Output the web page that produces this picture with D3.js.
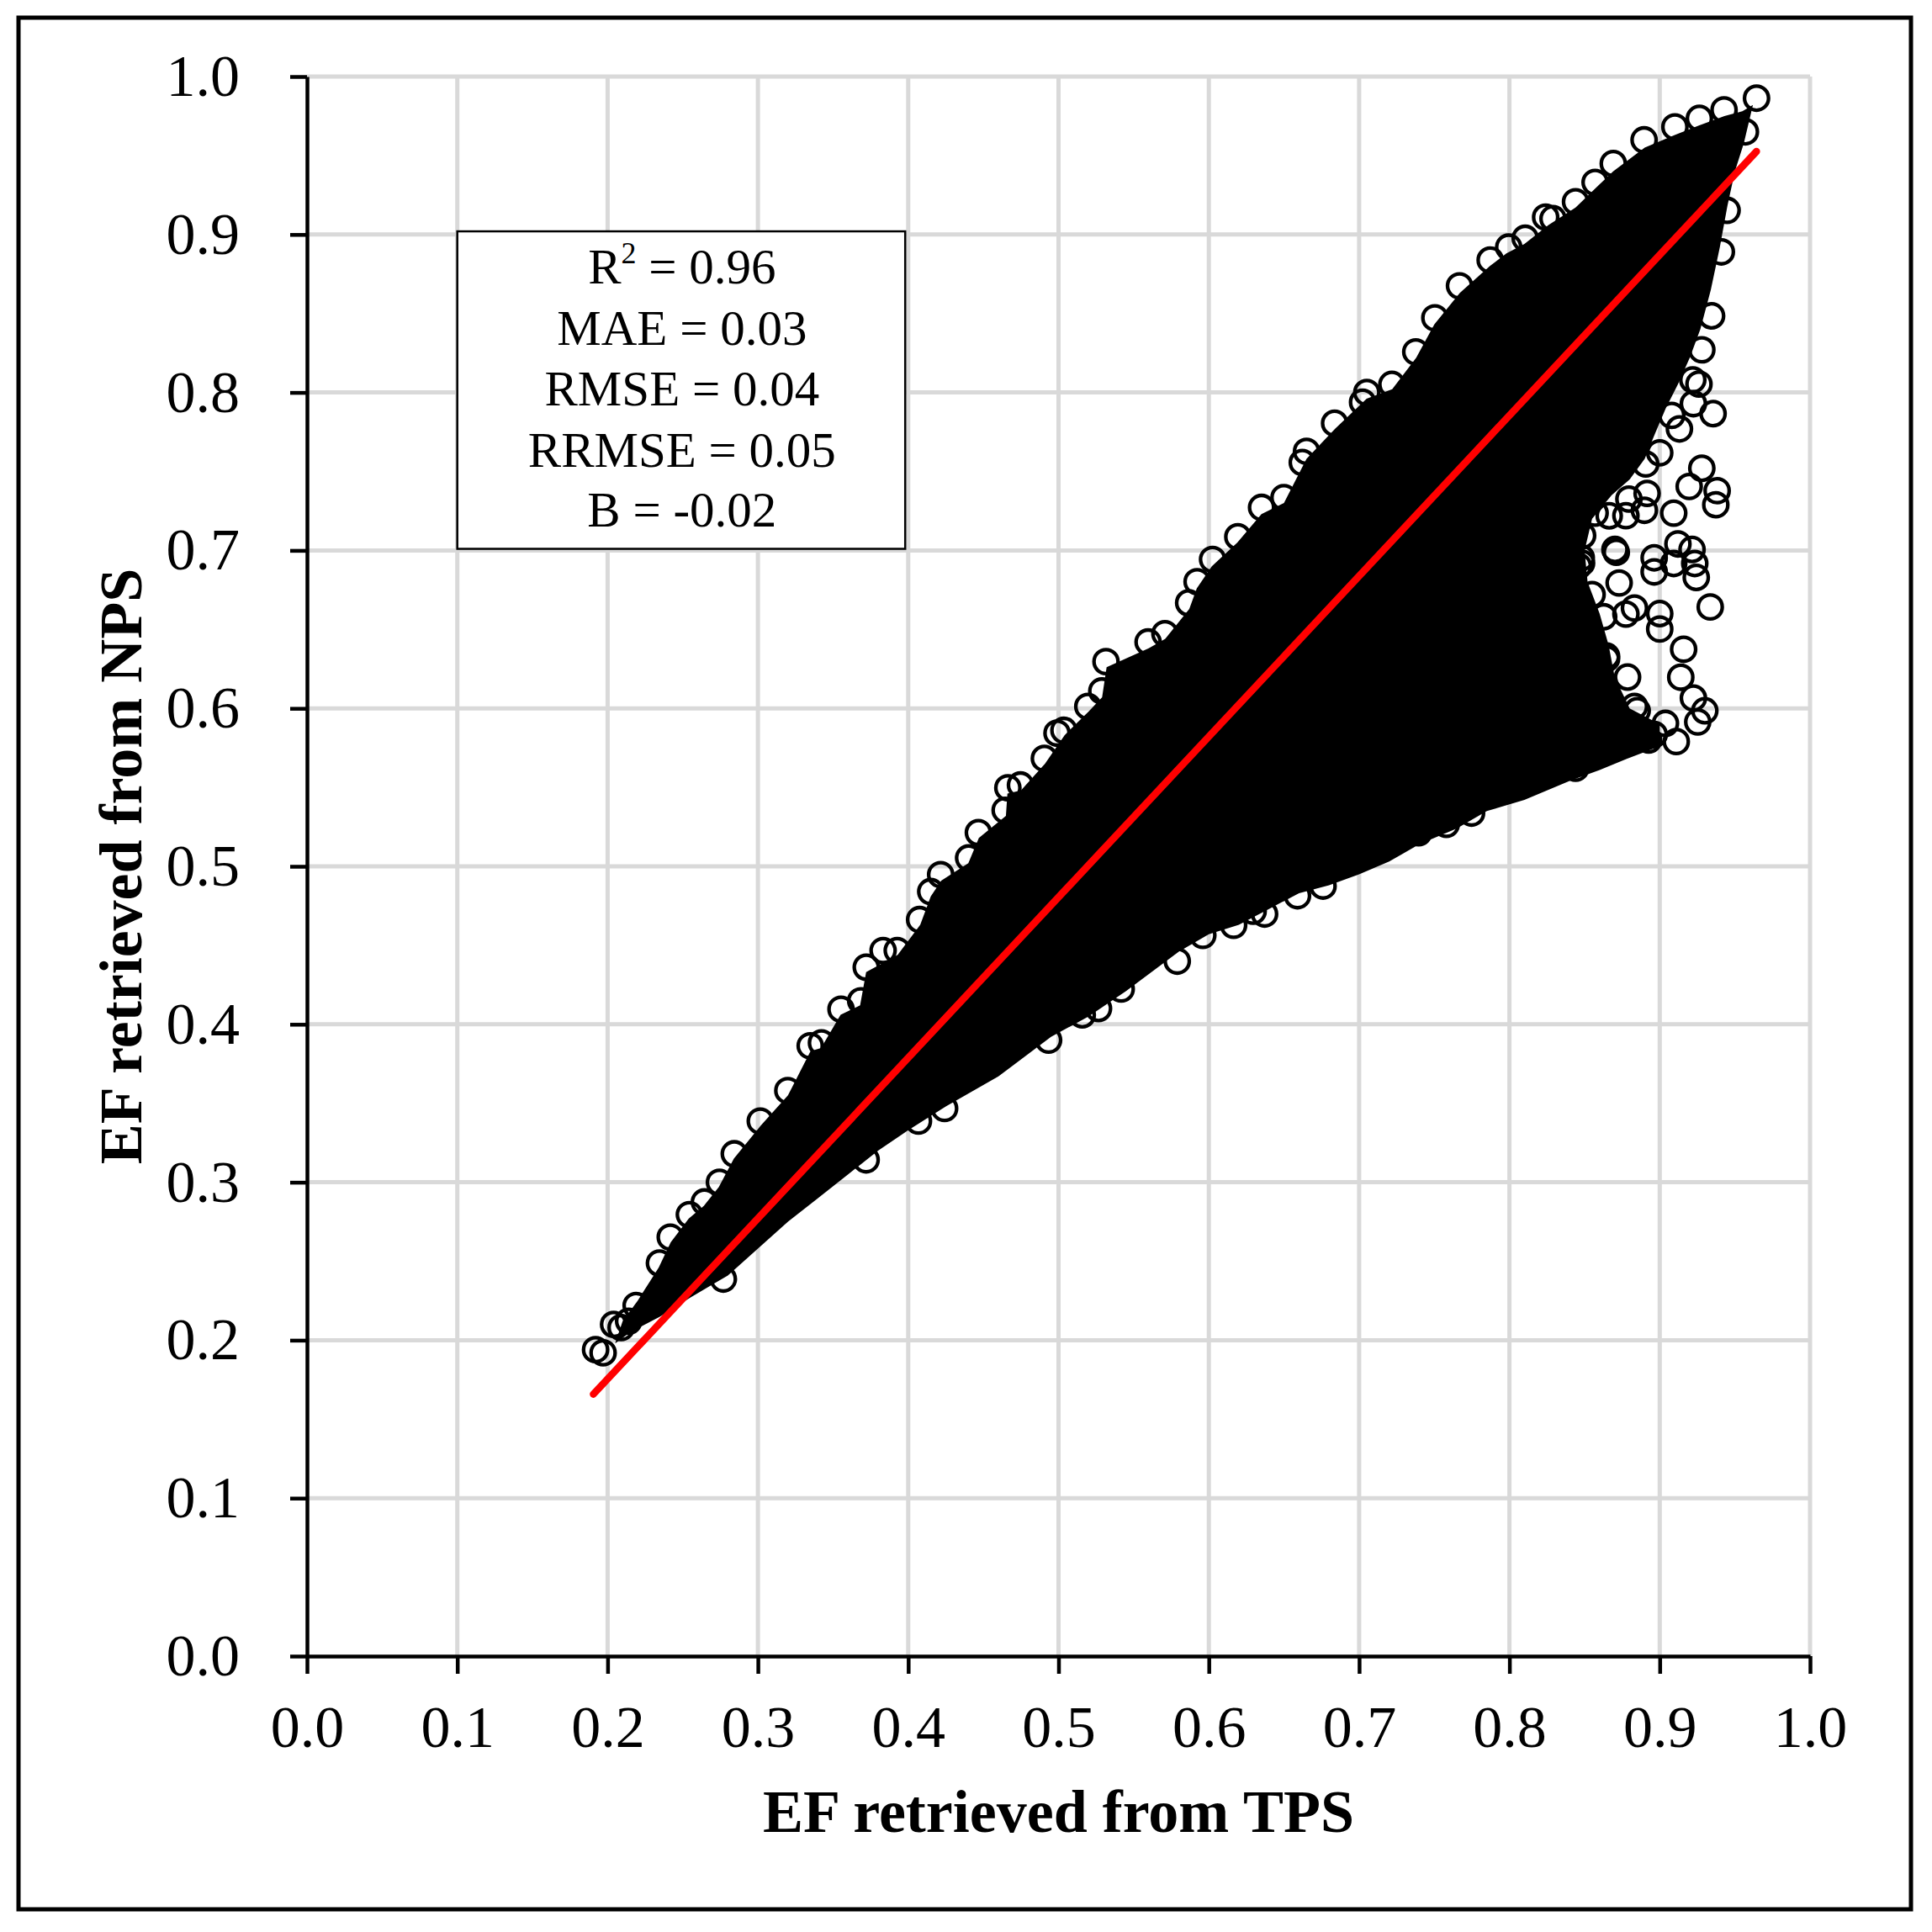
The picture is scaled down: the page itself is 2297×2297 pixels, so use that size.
<!DOCTYPE html>
<html lang="en">
<head>
<meta charset="UTF-8">
<title>EF retrieved from TPS vs NPS</title>
<script src="https://d3js.org/d3.v7.min.js"></script>
<style>
  body { margin: 0; background: #fff; }
  svg { display: block; }
  text { font-family: "Liberation Serif", "Times New Roman", serif; fill: #000; }
  .tick text { font-size: 70px; font-family: "Liberation Serif", serif; }
  .axis-title { font-size: 72px; font-weight: bold; }
  .stat { font-size: 59px; }
</style>
</head>
<body>
<svg width="2297" height="2297"></svg>
<script>
// tick values and labels
const ticks = [0, 0.1, 0.2, 0.3, 0.4, 0.5, 0.6, 0.7, 0.8, 0.9, 1.0];
const tickLabels = ["0.0", "0.1", "0.2", "0.3", "0.4", "0.5", "0.6", "0.7", "0.8", "0.9", "1.0"];

// outline of the fully overlapped part of the cloud, [TPS, NPS]
const coreOutline = [
  // lower edge
  [0.205, 0.198], [0.215, 0.205], [0.235, 0.215], [0.255, 0.227], [0.280, 0.241], [0.300, 0.258],
  [0.320, 0.275], [0.340, 0.290], [0.360, 0.305], [0.380, 0.320], [0.400, 0.333], [0.425, 0.348],
  [0.460, 0.367], [0.495, 0.392], [0.520, 0.405], [0.545, 0.421], [0.580, 0.446], [0.600, 0.457],
  [0.620, 0.463], [0.640, 0.473], [0.660, 0.483], [0.680, 0.488], [0.700, 0.495], [0.720, 0.503],
  [0.740, 0.514], [0.765, 0.524], [0.785, 0.535], [0.810, 0.542], [0.840, 0.554], [0.860, 0.561],
  [0.878, 0.568], [0.900, 0.576],
  // right side
  [0.900, 0.590], [0.880, 0.600], [0.870, 0.620], [0.866, 0.640], [0.860, 0.660], [0.852, 0.680],
  [0.850, 0.700], [0.855, 0.720], [0.868, 0.735], [0.880, 0.745], [0.890, 0.758], [0.896, 0.772],
  [0.904, 0.790], [0.912, 0.805], [0.920, 0.822], [0.927, 0.840], [0.934, 0.865], [0.940, 0.892],
  [0.945, 0.918], [0.950, 0.940], [0.956, 0.958], [0.962, 0.982],
  // upper edge
  [0.955, 0.978], [0.943, 0.975], [0.926, 0.969], [0.910, 0.963], [0.890, 0.955], [0.869, 0.940],
  [0.857, 0.929], [0.844, 0.917], [0.826, 0.906], [0.810, 0.894], [0.798, 0.888], [0.787, 0.880],
  [0.767, 0.863], [0.750, 0.843], [0.738, 0.822], [0.722, 0.802], [0.705, 0.796], [0.684, 0.777],
  [0.665, 0.758], [0.650, 0.730], [0.635, 0.723], [0.619, 0.705], [0.602, 0.690], [0.592, 0.676],
  [0.587, 0.663], [0.571, 0.644], [0.560, 0.638], [0.532, 0.626], [0.529, 0.607], [0.520, 0.598],
  [0.504, 0.583], [0.491, 0.565], [0.475, 0.548], [0.466, 0.546], [0.465, 0.532], [0.447, 0.518],
  [0.440, 0.502], [0.422, 0.491], [0.415, 0.481], [0.408, 0.463], [0.393, 0.444], [0.372, 0.433],
  [0.368, 0.412], [0.355, 0.406], [0.342, 0.385], [0.335, 0.383], [0.320, 0.355], [0.302, 0.336],
  [0.284, 0.315], [0.274, 0.297], [0.264, 0.285], [0.254, 0.277], [0.242, 0.262], [0.234, 0.246],
  [0.220, 0.225], [0.210, 0.212]
];

// individually visible points, [TPS, NPS]
const upperEdgePoints = [
  [0.192, 0.194], [0.197, 0.192], [0.204, 0.210], [0.209, 0.208], [0.214, 0.212], [0.219, 0.222],
  [0.2345, 0.2488], [0.2417, 0.2652], [0.2544, 0.2795], [0.2644, 0.2875], [0.2744, 0.300], [0.2843, 0.318],
  [0.3016, 0.3387], [0.3199, 0.358], [0.3348, 0.3864], [0.3423, 0.3882], [0.3553, 0.4095], [0.3684, 0.4148],
  [0.3721, 0.4361], [0.3833, 0.4467], [0.3927, 0.4467], [0.4076, 0.4663], [0.415, 0.484], [0.4216, 0.4947],
  [0.4402, 0.5053], [0.4467, 0.5213], [0.4645, 0.5355], [0.4663, 0.5497], [0.4747, 0.5515], [0.4906, 0.5683],
  [0.499, 0.5843], [0.5036, 0.5861], [0.5195, 0.6012], [0.5288, 0.611], [0.5316, 0.6296], [0.5596, 0.642],
  [0.5708, 0.6473], [0.5866, 0.6668], [0.5922, 0.6802], [0.6025, 0.6943], [0.6193, 0.7086], [0.6351, 0.7272],
  [0.650, 0.7334], [0.6622, 0.7556], [0.665, 0.7627], [0.6837, 0.7805], [0.7023, 0.7938], [0.7051, 0.800],
  [0.7218, 0.8051], [0.7377, 0.8257], [0.7504, 0.8472], [0.7668, 0.8675], [0.7872, 0.8838], [0.7995, 0.892],
  [0.8105, 0.8976], [0.8241, 0.911], [0.829, 0.910], [0.844, 0.9207], [0.857, 0.933], [0.8691, 0.9449],
  [0.8896, 0.9599], [0.9101, 0.9681], [0.9264, 0.9735], [0.9428, 0.9789], [0.9644, 0.9863], [0.957, 0.965]
];
const lowerEdgePoints = [
  [0.277, 0.2387], [0.372, 0.3142], [0.4068, 0.3387], [0.4242, 0.3467], [0.4934, 0.390], [0.5158, 0.406],
  [0.5266, 0.410], [0.5417, 0.4223], [0.579, 0.440], [0.596, 0.4563], [0.6165, 0.4627], [0.6295, 0.4716],
  [0.6371, 0.4698], [0.659, 0.4814], [0.676, 0.4875], [0.7396, 0.5213], [0.758, 0.5266], [0.7748, 0.5337],
  [0.844, 0.5621], [0.8926, 0.580], [0.8963, 0.5835], [0.9038, 0.5905], [0.911, 0.579]
];
const rightSidePoints = [
  [0.9448, 0.9153], [0.941, 0.889], [0.9345, 0.8485], [0.928, 0.827], [0.922, 0.808], [0.9261, 0.8053],
  [0.9224, 0.7929], [0.9355, 0.7866], [0.9131, 0.7769], [0.908, 0.7855], [0.900, 0.7618], [0.8907, 0.7547],
  [0.928, 0.752], [0.9196, 0.7405], [0.9382, 0.7378], [0.9373, 0.7289], [0.9093, 0.7236], [0.8916, 0.7361],
  [0.8898, 0.7254], [0.8795, 0.7325], [0.8664, 0.7219], [0.857, 0.7236], [0.842, 0.7236], [0.8775, 0.722],
  [0.8487, 0.7094], [0.840, 0.708], [0.8702, 0.7006], [0.8711, 0.6988], [0.8478, 0.6953], [0.8459, 0.690],
  [0.848, 0.692], [0.835, 0.680], [0.9121, 0.7041], [0.9215, 0.7006], [0.8963, 0.6953], [0.8963, 0.6864],
  [0.9093, 0.6917], [0.9233, 0.6917], [0.9243, 0.6829], [0.9336, 0.6642], [0.873, 0.6794], [0.855, 0.672],
  [0.8832, 0.6635], [0.900, 0.660], [0.8775, 0.6597], [0.8627, 0.658], [0.8217, 0.662], [0.900, 0.6502],
  [0.8534, 0.6456], [0.9159, 0.6374], [0.8646, 0.6331], [0.8646, 0.6314], [0.816, 0.633], [0.831, 0.6225],
  [0.846, 0.619], [0.8534, 0.6171], [0.8786, 0.6198], [0.914, 0.6197], [0.9224, 0.6065], [0.8832, 0.6012],
  [0.930, 0.5985], [0.8702, 0.5976], [0.8646, 0.5976], [0.885, 0.5985], [0.9253, 0.5914], [0.8627, 0.594],
  [0.8366, 0.5916], [0.849, 0.580]
];

// fitted line end points
const fitTPS = [0.1905, 0.9644];
const fitNPS = [0.1658, 0.9526];

// statistics shown in the box
const statLabels = ["R", "MAE", "RMSE", "RRMSE", "B"];
const statSup = ["2", "", "", "", ""];
const statValues = [" = 0.96", " = 0.03", " = 0.04", " = 0.05", " = -0.02"];
const statY = [0.8688, 0.830, 0.7918, 0.7529, 0.7151];

const svg = d3.select("svg"),
      margin = {top: 91, right: 145, bottom: 328, left: 365},
      width = +svg.attr("width") - margin.left - margin.right,
      height = +svg.attr("height") - margin.top - margin.bottom;

// outer frame
svg.append("rect")
  .attr("x", 22).attr("y", 21)
  .attr("width", 2250).attr("height", 2249)
  .attr("fill", "#fff")
  .attr("stroke", "#000")
  .attr("stroke-width", 5);

const g = svg.append("g")
  .attr("transform", `translate(${margin.left},${margin.top})`);

const x = d3.scaleLinear().domain([0, 1]).range([0, width]);
const y = d3.scaleLinear().domain([0, 1]).range([height, 0]);

// grid
g.append("g").selectAll("line")
  .data(ticks.slice(1))
  .join("line")
    .attr("x1", d => x(d)).attr("x2", d => x(d))
    .attr("y1", 0).attr("y2", height)
    .attr("stroke", "#d9d9d9").attr("stroke-width", 5);
g.append("g").selectAll("line")
  .data(ticks.slice(1))
  .join("line")
    .attr("x1", 0).attr("x2", width)
    .attr("y1", d => y(d)).attr("y2", d => y(d))
    .attr("stroke", "#d9d9d9").attr("stroke-width", 5);

// dense part of the cloud
g.append("path")
  .datum(coreOutline)
  .attr("d", d3.line().x(d => x(d[0])).y(d => y(d[1])).curve(d3.curveLinearClosed))
  .attr("fill", "#000");

// single points
const points = upperEdgePoints.concat(lowerEdgePoints, rightSidePoints);
g.append("g").selectAll("circle")
  .data(points)
  .join("circle")
    .attr("cx", d => x(d[0]))
    .attr("cy", d => y(d[1]))
    .attr("r", 14.3)
    .attr("fill", "none")
    .attr("stroke", "#000")
    .attr("stroke-width", 4.3);

// fit line
g.append("path")
  .datum(d3.zip(fitTPS, fitNPS))
  .attr("d", d3.line().x(d => x(d[0])).y(d => y(d[1])))
  .attr("stroke", "#ff0000")
  .attr("stroke-width", 8.5)
  .attr("stroke-linecap", "round")
  .attr("fill", "none");

// axes
const fmt = (d, i) => tickLabels[i];
const xAxis = g.append("g")
  .attr("transform", `translate(0,${height})`)
  .call(d3.axisBottom(x).tickValues(ticks).tickFormat(fmt).tickSize(21).tickSizeOuter(0).tickPadding(37));
const yAxis = g.append("g")
  .call(d3.axisLeft(y).tickValues(ticks).tickFormat(fmt).tickSize(20).tickSizeOuter(0).tickPadding(60));
[xAxis, yAxis].forEach(a => {
  a.select(".domain").attr("stroke", "#000").attr("stroke-width", 4.5);
  a.selectAll(".tick line").attr("stroke", "#000").attr("stroke-width", 4.5);
  a.selectAll(".tick text").attr("fill", "#000");
});

// stats box
const box = g.append("g");
box.append("rect")
  .attr("x", x(0.1)).attr("y", y(0.902))
  .attr("width", x(0.398) - x(0.1)).attr("height", y(0.701) - y(0.902))
  .attr("fill", "#fff")
  .attr("stroke", "#000")
  .attr("stroke-width", 2.5);
statLabels.forEach((label, i) => {
  const t = box.append("text")
    .attr("class", "stat")
    .attr("x", x(0.2495))
    .attr("y", y(statY[i]))
    .attr("text-anchor", "middle");
  t.append("tspan").text(label);
  if (statSup[i]) {
    t.append("tspan").attr("font-size", "36px").attr("dy", -24).text(statSup[i]);
    t.append("tspan").attr("dy", 24).text(statValues[i]);
  } else {
    t.append("tspan").text(statValues[i]);
  }
});

// axis titles
svg.append("text")
  .attr("class", "axis-title")
  .attr("x", margin.left + width / 2)
  .attr("y", 2178)
  .attr("text-anchor", "middle")
  .text("EF retrieved from TPS");

svg.append("text")
  .attr("class", "axis-title")
  .attr("transform", `translate(168,${margin.top + height / 2}) rotate(-90)`)
  .attr("text-anchor", "middle")
  .text("EF retrieved from NPS");
</script>
</body>
</html>
